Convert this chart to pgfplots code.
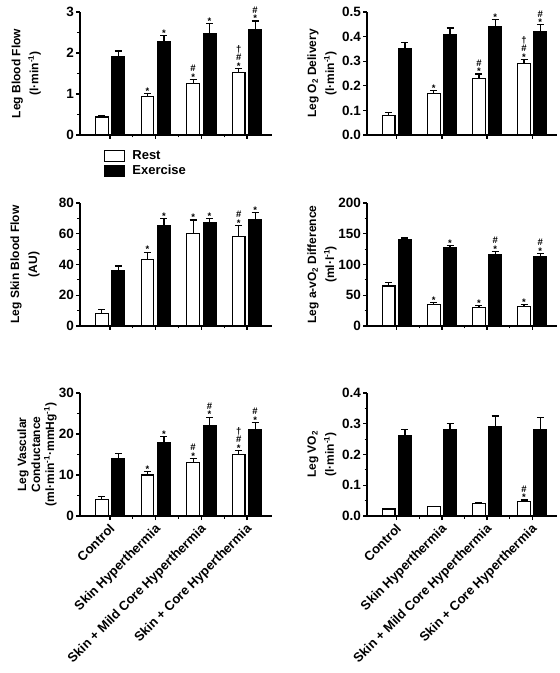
\documentclass[border=0pt]{standalone}
\usepackage{fontspec}
\setmainfont{Liberation Sans}
\usepackage{pgfplots}
\usepackage{pgfplotstable}
\pgfplotsset{compat=1.18}

\newcommand\mN{}
\newcommand\mS{*}
\newcommand\mHS{\#\\*}
\newcommand\mDHS{†\\\#\\*}

% x = group, r = rest mean, re = rest SE, ra = rest annotation, e/ee/ea = exercise
\pgfplotstableread{
x r re ra e ee ea
0 0.44 0.04 N 1.90 0.15 N
1 0.94 0.07 S 2.27 0.15 S
2 1.26 0.09 HS 2.48 0.24 S
3 1.53 0.09 DHS 2.56 0.22 HS
}\tA
\pgfplotstableread{
x r re ra e ee ea
0 0.08 0.010 N 0.35 0.025 N
1 0.17 0.010 S 0.41 0.025 N
2 0.23 0.018 HS 0.44 0.030 S
3 0.29 0.018 DHS 0.42 0.028 HS
}\tB
\pgfplotstableread{
x r re ra e ee ea
0 8 2.5 N 36 3 N
1 43 5 S 65 5 S
2 60 9 S 67 3 S
3 58 7.5 HS 69 5 S
}\tC
\pgfplotstableread{
x r re ra e ee ea
0 65 6 N 141 2 N
1 35 3 S 128 3 S
2 30 3 S 116 5 HS
3 32 3 S 113 5 HS
}\tD
\pgfplotstableread{
x r re ra e ee ea
0 4.1 0.7 N 14 1.2 N
1 10 0.9 S 18 1.3 S
2 13 1.0 HS 22 2.1 HS
3 15 1.0 DHS 21 1.8 HS
}\tE
\pgfplotstableread{
x r re ra e ee ea
0 0.023 0.002 N 0.26 0.022 N
1 0.030 0.002 N 0.28 0.020 N
2 0.040 0.003 N 0.29 0.035 N
3 0.047 0.005 HS 0.28 0.040 N
}\tF

\pgfplotsset{
  sqlegend/.style={legend image code/.code={\draw[#1] (0pt,-5.5pt) rectangle (20pt,5.5pt);}},
  panel/.style={
    scale only axis, width=#1, height=123pt,
    axis lines*=left,
    xmin=-0.66, xmax=3.55, ymin=0,
    xtick={0,1,2,3}, xticklabels={},
    tick align=outside,
    major tick length=4pt, minor tick length=2.5pt,
    axis line style={line width=1.2pt},
    tick style={line width=1.2pt, black},
    minor tick style={line width=1pt, black},
    clip=false,
    /pgf/number format/assume math mode=true,
    yticklabel style={font=\fontsize{13.5}{13.5}\selectfont\bfseries, inner sep=2pt},
    ylabel style={font=\fontsize{12}{14}\selectfont\bfseries, align=center, anchor=center},
    scaled y ticks=false,
  },
  botlab/.style={
    xticklabels={Control,Skin Hyperthermia,Skin + Mild Core Hyperthermia,Skin + Core Hyperthermia},
    xticklabel style={rotate=45, anchor=north east, inner sep=1pt, xshift=-2pt, font=\fontsize{13}{13}\selectfont\bfseries},
  },
  annot/.style={draw=none, mark=none, forget plot,
    nodes near coords={\csname m\pgfplotspointmeta\endcsname},
    point meta=explicit symbolic,
    every node near coord/.style={font=\fontsize{9.5}{8.5}\selectfont\bfseries, align=center, anchor=south, inner sep=1pt, yshift=-2pt}},
  ebar/.style={error bars/.cd, y dir=plus, y explicit, error bar style={line width=1.2pt},
    error mark options={rotate=90, line width=1.2pt, mark size=3.5pt}},
}

\newcommand\bars[1]{%
  \addplot[forget plot, ybar, bar width=0.28, bar shift=0, fill=white, draw=black, line width=1.2pt, ebar]
    table[x expr=\thisrow{x}-0.18, y=r, y error=re]{#1};
  \addplot[forget plot, ybar, bar width=0.28, bar shift=0, fill=black, draw=black, line width=1.2pt, ebar]
    table[x expr=\thisrow{x}+0.18, y=e, y error=ee]{#1};
  \addplot[annot] table[x expr=\thisrow{x}-0.18, y expr=\thisrow{r}+\thisrow{re}, meta=ra]{#1};
  \addplot[annot] table[x expr=\thisrow{x}+0.18, y expr=\thisrow{e}+\thisrow{ee}, meta=ea]{#1};
}

\begin{document}
\begin{tikzpicture}[x=1pt,y=1pt]
\path[use as bounding box] (0,0) rectangle (560,673);

% Panel 1
\begin{axis}[panel=192pt, at={(80pt,538pt)}, anchor=south west,
  ymax=3, ytick={0,1,2,3}, minor tick num=1,
  ylabel={Leg Blood Flow\\[4pt](l·min\textsuperscript{-1})},
  ylabel style={at={(axis description cs:-0.28,0.5)}},
  legend style={at={(axis description cs:0.125,-0.12)}, anchor=north west, draw=none, fill=none,
    font=\fontsize{13}{15}\selectfont\bfseries, row sep=2pt, inner sep=0pt,
    nodes={inner sep=1pt}},
  legend cell align=left,
  /tikz/every odd column/.append style={column sep=6pt},
]
\bars{\tA}
\addlegendimage{sqlegend, fill=white, draw=black, line width=1.2pt}
\addlegendentry{Rest}
\addlegendimage{sqlegend, fill=black, draw=black, line width=1.2pt}
\addlegendentry{Exercise}
\end{axis}

% Panel 2
\begin{axis}[panel=190pt, at={(367pt,538pt)}, anchor=south west,
  ymax=0.5, ytick={0,0.1,0.2,0.3,0.4,0.5},
  yticklabel={\pgfmathprintnumber[fixed, fixed zerofill, precision=1]{\tick}},
  ylabel={Leg O\textsubscript{2} Delivery\\[4pt](l·min\textsuperscript{-1})},
  ylabel style={at={(axis description cs:-0.237,0.5)}},
]
\bars{\tB}
\end{axis}

% Panel 3
\begin{axis}[panel=192pt, at={(80pt,347pt)}, anchor=south west,
  ymax=80, ytick={0,20,40,60,80}, minor tick num=1,
  ylabel={Leg Skin Blood Flow\\[4pt](AU)},
  ylabel style={at={(axis description cs:-0.286,0.5)}},
]
\bars{\tC}
\end{axis}

% Panel 4
\begin{axis}[panel=190pt, at={(367pt,347pt)}, anchor=south west,
  ymax=200, ytick={0,50,100,150,200}, minor tick num=1,
  ylabel={Leg a-vO\textsubscript{2} Difference\\[4pt](ml·l\textsuperscript{-1})},
  ylabel style={at={(axis description cs:-0.237,0.5)}},
]
\bars{\tD}
\end{axis}

% Panel 5
\begin{axis}[panel=192pt, botlab, at={(80pt,157pt)}, anchor=south west,
  ymax=30, ytick={0,10,20,30}, minor tick num=1,
  ylabel={Leg Vascular\\Conductance\\(ml·min\textsuperscript{-1}·mmHg\textsuperscript{-1})},
  ylabel style={at={(axis description cs:-0.224,0.5)}},
]
\bars{\tE}
\end{axis}

% Panel 6
\begin{axis}[panel=190pt, botlab, at={(367pt,157pt)}, anchor=south west,
  ymax=0.4, ytick={0,0.1,0.2,0.3,0.4}, minor tick num=1,
  yticklabel={\pgfmathprintnumber[fixed, fixed zerofill, precision=1]{\tick}},
  ylabel={Leg VO\textsubscript{2}\\[4pt](l·min\textsuperscript{-1})},
  ylabel style={at={(axis description cs:-0.237,0.5)}},
]
\bars{\tF}
\end{axis}
\end{tikzpicture}
\end{document}
